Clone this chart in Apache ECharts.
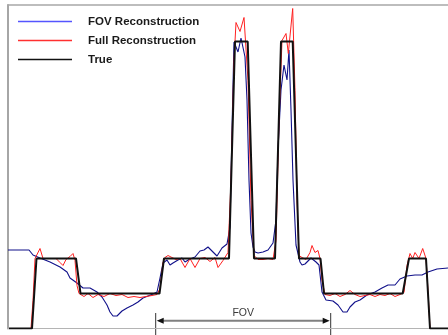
<!DOCTYPE html>
<html>
<head>
<meta charset="utf-8">
<title></title>
<style>
html, body { margin: 0; padding: 0; background: #fff; }
#chart { width: 448px; height: 335px; }
</style>
</head>
<body>
<div id="chart"></div>
<script src="https://cdn.jsdelivr.net/npm/echarts@6/dist/echarts.min.js"></script>
<script>
// profile position (x) / intensity (y)
var seriesNames = ['FOV Reconstruction', 'Full Reconstruction', 'True'];

var fovRecon = [
  [0,78.5],[21,78.5],[25,73.5],[32,70.5],[42,66.5],[52,61.5],[59,56.5],[62,50.5],[69,45.5],[75,40.5],
  [82,40.5],[89,36.5],[94,31.5],[99,23.5],[102,16.5],[105,12.5],[109,12.5],[114,17.5],[119,20.5],[125,23.5],
  [130,26.5],[135,30.5],[140,32.5],[145,34.5],[149,36.5],[152,50.5],[155,65.5],[159,68.5],[162,63.5],[165,65.5],
  [170,68.5],[174,70.5],[177,66.5],[182,69.5],[187,71.5],[192,77.5],[196,78.5],[200,81.5],[205,76.5],[209,72.5],
  [214,80.5],[219,84.5],[222,101.5],[224,198.5],[226,286.5],[230,276.5],[233,290.5],[237,271.5],[239,228.5],[241,148.5],
  [243,95.5],[245,81.5],[247,76.5],[250,75.5],[255,76.5],[260,78.5],[265,85.5],[268,108.5],[270,178.5],[273,238.5],
  [276,263.5],[279,248.5],[281,278.5],[283,218.5],[285,148.5],[288,83.5],[292,66.5],[294,63.5],[297,64.5],[300,67.5],
  [303,70.5],[308,66.5],[311,63.5],[314,36.5],[318,28.5],[325,27.5],[330,23.5],[335,16.5],[339,16.5],[342,21.5],
  [347,26.5],[352,28.5],[359,33.5],[367,36.5],[374,40.5],[380,43.5],[387,43.5],[392,49.5],[399,52.5],[407,53.5],
  [414,53.5],[420,56.5],[429,59.5],[440,60.5]
];

var fullRecon = [
  [1,0],[23,0],[25,28],[27,70],[29,70],[32,80],[35,70],[42,70],[48,70],[52,66],
  [55,63],[58,69],[62,72],[65,75],[67,68],[69,43],[71,35],[76,32],[80,35],[85,31],
  [90,34],[96,32],[102,35],[108,33],[114,34],[120,31],[126,32],[132,31],[138,32],[144,33],
  [149,34],[152,40],[155,66],[157,71],[160,73],[164,71],[168,69],[172,70],[177,61],[182,70],
  [187,61],[192,70],[197,71],[202,67],[207,71],[210,61],[215,68],[220,76],[223,148],[226,268],
  [228,306],[232,297],[236,311],[240,248],[243,128],[246,73],[250,69],[255,69],[260,70],[265,69],
  [268,88],[271,208],[274,288],[278,295],[280.3,275],[284.7,320],[287,238],[289,128],[291,73],[294,71],
  [298,69],[302,76],[304,83],[307,76],[310,78],[312,70],[314,48],[317,34],[322,33],[327,35],
  [332,32],[337,34],[342,38],[347,34],[352,32],[357,33],[362,34],[367,32],[372,34],[377,33],
  [382,35],[387,32],[392,34],[396,36],[399,63],[402,75],[404.7,70],[407,76],[411,70],[414.7,80],
  [418,70],[420,38],[422,0],[440,0]
];

var trueProfile = [
  [1,0],[24,0],[28.5,70],[68,70],[72.5,35],[151.5,35],[156,70],[221,70],[227,287],[239.7,287],
  [246,70],[267,70],[273,287],[284.7,287],[291,70],[312.5,70],[316,35],[394.7,35],[401,70],[418,70],
  [422,0],[440,0]
];

// field of view bracket
var fovLabel = 'FOV';
var fovRange = [147.7, 322.7];
var fovArrowY = 7.8;
var fovTextY = 15.5;
var fovTickTop = 15.5;
var fovTickBottom = -6.5;

var font = 'Liberation Sans, Arial, sans-serif';
var chart = echarts.init(document.getElementById('chart'));

function lineSeries(name, data, color, width) {
  return {
    name: name,
    type: 'line',
    data: data,
    symbol: 'none',
    showSymbol: false,
    lineStyle: { color: color, width: width },
    itemStyle: { color: color }
  };
}

chart.setOption({
  animation: false,
  grid: { left: 8, right: 0, top: 5, bottom: 6.5 },
  legend: {
    orient: 'vertical',
    left: 18,
    top: 14.5,
    padding: 0,
    itemGap: 5,
    itemWidth: 54,
    itemHeight: 1.5,
    icon: 'rect',
    textStyle: {
      fontFamily: font,
      fontWeight: 'bold',
      fontSize: 11.5,
      color: '#1a1a1a',
      lineHeight: 14,
      padding: [0, 0, 0, 11]
    },
    data: [
      { name: seriesNames[0], itemStyle: { color: '#5555ff' } },
      { name: seriesNames[1], itemStyle: { color: '#ff3030' } },
      { name: seriesNames[2], itemStyle: { color: '#111' } }
    ]
  },
  xAxis: [
    {
      type: 'value', min: 0, max: 440,
      axisLine: { onZero: false, lineStyle: { color: '#b4b4b4', width: 1 } },
      axisTick: { show: false }, axisLabel: { show: false }, splitLine: { show: false }
    },
    {
      type: 'value', position: 'top', min: 0, max: 440,
      axisLine: { show: true, onZero: false, lineStyle: { color: '#a8a8a8', width: 1.5 } },
      axisTick: { show: false }, axisLabel: { show: false }, splitLine: { show: false }
    }
  ],
  yAxis: {
    type: 'value', min: 0, max: 323.5,
    axisLine: { show: true, onZero: false, lineStyle: { color: '#a6a6a6', width: 2 } },
    axisTick: { show: false }, axisLabel: { show: false }, splitLine: { show: false }
  },
  series: [
    lineSeries(seriesNames[0], fovRecon, '#10108a', 1.1),
    lineSeries(seriesNames[1], fullRecon, '#ff2020', 1),
    lineSeries(seriesNames[2], trueProfile, '#111', 2)
  ]
});

// FOV bracket placed through the axes
var toPx = function (x, y) { return chart.convertToPixel({ xAxisIndex: 0, yAxisIndex: 0 }, [x, y]); };
var a = toPx(fovRange[0], fovArrowY);
var b = toPx(fovRange[1], fovArrowY);
var tTop = toPx(fovRange[0], fovTickTop)[1];
var tBot = toPx(fovRange[0], fovTickBottom)[1];
var tY = toPx(fovRange[0], fovTextY)[1];
var xl = a[0], xr = b[0], ya = a[1];

chart.setOption({
  graphic: [
    { type: 'line', shape: { x1: xl + 6, y1: ya, x2: xr - 6, y2: ya }, style: { stroke: '#808080', lineWidth: 2 } },
    { type: 'polygon', shape: { points: [[xl + 1, ya], [xl + 8, ya - 3], [xl + 8, ya + 3]] }, style: { fill: '#111' } },
    { type: 'polygon', shape: { points: [[xr - 1, ya], [xr - 8, ya - 3], [xr - 8, ya + 3]] }, style: { fill: '#111' } },
    { type: 'line', shape: { x1: xl, y1: tTop, x2: xl, y2: tBot }, style: { stroke: '#333', lineWidth: 1 } },
    { type: 'line', shape: { x1: xr, y1: tTop, x2: xr, y2: tBot }, style: { stroke: '#333', lineWidth: 1 } },
    {
      type: 'text',
      style: {
        text: fovLabel, x: (xl + xr) / 2, y: tY,
        align: 'center', verticalAlign: 'middle',
        font: '10.5px ' + font, fill: '#3a3a3a'
      }
    }
  ]
});
</script>
</body>
</html>
